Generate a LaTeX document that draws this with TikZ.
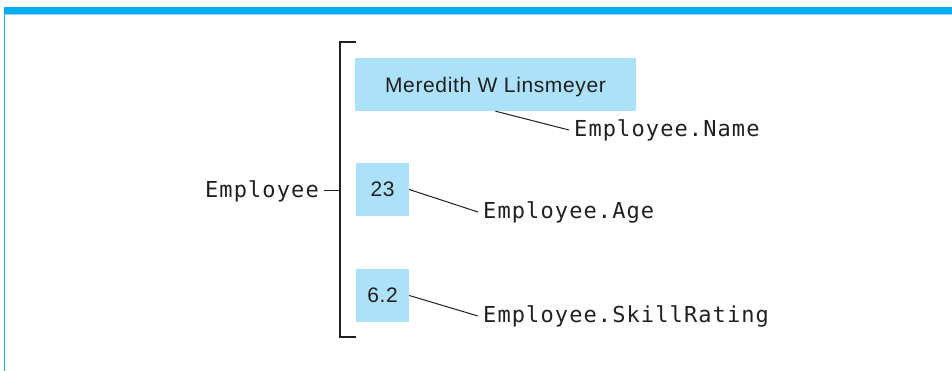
\documentclass[tikz,border=0pt]{standalone}
\usepackage{fontspec}
\newfontfamily\codefont{DejaVu Sans Mono}[LetterSpace=5]
\newfontfamily\valfont{Liberation Sans}[LetterSpace=3]
\definecolor{barblue}{HTML}{00AEEF}
\definecolor{barlight}{HTML}{8ED8F8}
\definecolor{boxblue}{HTML}{ABE2F9}
\definecolor{ink}{HTML}{231F20}
\tikzset{
  valbox/.style={fill=boxblue, draw=none, inner sep=0pt, text depth=0pt, text=ink, font=\valfont\fontsize{21}{25}\selectfont},
  lbl/.style={inner sep=0pt, text=ink, font=\codefont\fontsize{22}{26}\selectfont},
  conn/.style={draw=ink, line width=1pt},
  brack/.style={draw=ink, line width=1.3pt}
}
\begin{document}
\begin{tikzpicture}[x=1pt,y=-1pt]
\useasboundingbox (0,0) rectangle (952,371);
% frame
\fill[barblue] (4,7) rectangle (952,14);
\fill[barlight] (4,14) rectangle (952,15.5);
\fill[barblue] (3.5,14) rectangle (4.7,371);
% value boxes
\node[valbox, minimum width=281pt, minimum height=53pt] (name) at (495.5,84.5) {Meredith W Linsmeyer};
\node[valbox, minimum width=53pt, minimum height=53pt] (age) at (382.5,189.5) {23};
\node[valbox, minimum width=53pt, minimum height=53pt] (skill) at (382.5,295.5) {6.2};
% labels
\node[lbl, anchor=west, inner xsep=5pt] (lname) at (569,130) {Employee.Name};
\node[lbl, anchor=west, inner xsep=5pt] (lage) at (478,212) {Employee.Age};
\node[lbl, anchor=west, inner xsep=5pt] (lskill) at (478,316) {Employee.SkillRating};
\node[lbl, anchor=east, inner xsep=5pt] (emp) at (324,191) {Employee};
% bracket
\coordinate (bt) at (356,42);
\coordinate (bb) at (356,337);
\coordinate (bm) at (340,191);
\draw[brack] (bt) -- (340,42) -- (340,337) -- (bb);
\draw[conn] (emp.east) -- (bm);
% connectors
\draw[conn] (name.south) -- (lname.west);
\draw[conn] (age.east) -- (lage.west);
\draw[conn] (skill.east) -- (lskill.west);
\end{tikzpicture}
\end{document}
